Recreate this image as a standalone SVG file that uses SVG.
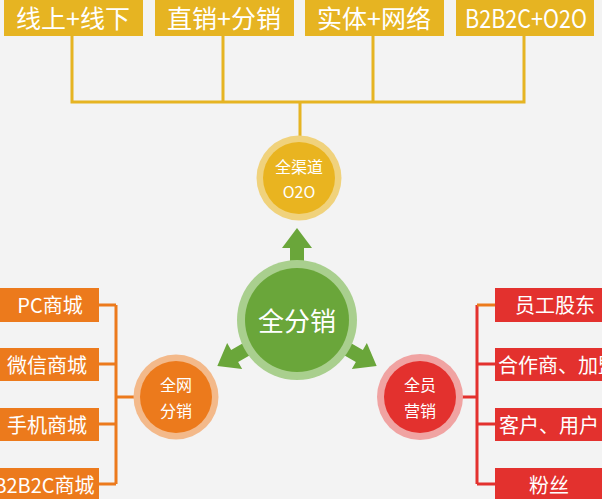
<svg xmlns="http://www.w3.org/2000/svg" width="602" height="499" viewBox="0 0 602 499">
<style>
text{font-family:"Noto Sans CJK SC","Noto Sans",sans-serif;fill:#fff;text-anchor:middle;dominant-baseline:central}
.yb{fill:#e6b422}
.ob{fill:#ec7a1c}
.rb{fill:#e3312e}
.yl{stroke:#e6b422;stroke-width:3;fill:none}
.ol{stroke:#ec7a1c;stroke-width:3;fill:none}
.rl{stroke:#e3312e;stroke-width:3;fill:none}
.t1{font-size:25px}
.t2{font-size:20px}
.t3{font-size:16px}
</style>
<defs>
<path id="arr" d="M-7,-50 L-7,-72 L-15,-72 L0,-92 L15,-72 L7,-72 L7,-50 Z" fill="#6aa63a"/>
</defs>
<rect width="602" height="499" fill="#f3f3f3"/>
<g id="connectors">
<path class="yl" d="M72,36 V102 H524 V36 M223,36 V102 M373,36 V102 M300,102 V136"/>
<path class="ol" d="M99,305 H116 M99,364 H116 M99,424 H116 M99,484 H116 M116,305 V484 M116,397 H134"/>
<path class="rl" d="M477,305 V484 M477,364 H495 M477,424 H495 M477,484 H495 M462,397 H477"/>
<path d="M477,305 H495" stroke="#ec7a1c" stroke-width="3"/>
</g>
<g id="top1"><rect class="yb" x="4" y="-5" width="139" height="41"/><text class="t1" x="73" y="17">线上+线下</text></g>
<g id="top2"><rect class="yb" x="155" y="-5" width="139" height="41"/><text class="t1" x="224" y="17">直销+分销</text></g>
<g id="top3"><rect class="yb" x="305" y="-5" width="139" height="41"/><text class="t1" x="374" y="17">实体+网络</text></g>
<g id="top4"><rect class="yb" x="456" y="-5" width="138" height="41"/><text class="t1" x="526" y="17" textLength="122" lengthAdjust="spacingAndGlyphs">B2B2C+O2O</text></g>
<g id="o2o"><circle cx="299" cy="178" r="42.5" fill="#f0d27c"/><circle cx="299" cy="178" r="36" fill="#e9b420"/><text class="t3" x="299" y="166">全渠道</text><text class="t3" x="299" y="191">O2O</text></g>
<g id="center">
<use href="#arr" transform="translate(297,320)"/>
<use href="#arr" transform="translate(297,320) rotate(-120)"/>
<use href="#arr" transform="translate(297,320) rotate(120)"/>
<circle cx="297" cy="320" r="60" fill="#a9cf8e"/><circle cx="297" cy="320" r="52" fill="#6aa63a"/><text x="297" y="319" font-size="26">全分销</text></g>
<g id="net"><circle cx="176" cy="397" r="42.5" fill="#f3b98a"/><circle cx="176" cy="397" r="36" fill="#ec7a1c"/><text class="t3" x="176" y="384">全网</text><text class="t3" x="176" y="410">分销</text></g>
<g id="staff"><circle cx="420" cy="397" r="43" fill="#f0a3a2"/><circle cx="420" cy="397" r="36" fill="#e3312e"/><text class="t3" x="420" y="384">全员</text><text class="t3" x="420" y="410">营销</text></g>
<g id="l1"><rect class="ob" x="-5" y="288" width="104" height="34"/><text class="t2" x="50" y="304">PC商城</text></g>
<g id="l2"><rect class="ob" x="-5" y="348" width="104" height="33"/><text class="t2" x="47" y="364">微信商城</text></g>
<g id="l3"><rect class="ob" x="-5" y="408" width="104" height="33"/><text class="t2" x="47" y="424">手机商城</text></g>
<g id="l4"><rect class="ob" x="-5" y="468" width="104" height="36"/><text class="t2" x="44" y="484">B2B2C商城</text></g>
<g id="r1"><rect class="rb" x="495" y="288" width="110" height="34"/><text class="t2" x="555" y="304">员工股东</text></g>
<g id="r2"><rect class="rb" x="495" y="348" width="110" height="33"/><text class="t2" x="498" y="364" style="text-anchor:start">合作商、加盟</text></g>
<g id="r3"><rect class="rb" x="495" y="408" width="110" height="33"/><text class="t2" x="549" y="424">客户、用户</text></g>
<g id="r4"><rect class="rb" x="495" y="468" width="110" height="36"/><text class="t2" x="549" y="484">粉丝</text></g>
</svg>
